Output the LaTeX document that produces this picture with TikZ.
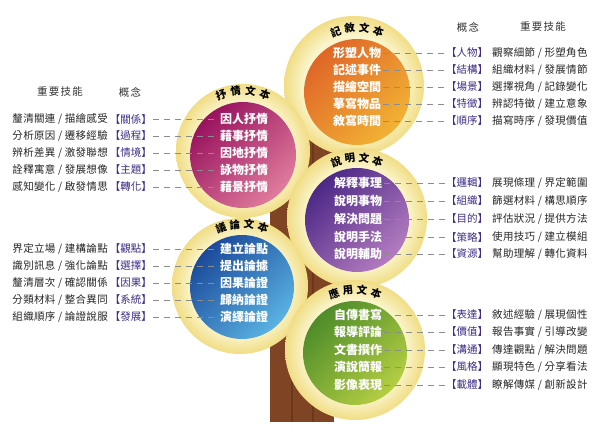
\documentclass[tikz,border=0pt]{standalone}
\usepackage{fontspec}
\usepackage{tikz}
\newfontfamily\cjk{Noto Sans CJK TC}
\newfontfamily\cjkwide[LetterSpace=12]{Noto Sans CJK TC}
\newfontfamily\cjkskill[LetterSpace=3]{Noto Sans CJK TC}
\definecolor{ringcream}{HTML}{FAF5CC}
\definecolor{ringyellow}{HTML}{F1DD84}
\definecolor{trunkbrown}{HTML}{7E4423}
\definecolor{trunkdark}{HTML}{6A381B}
\definecolor{conceptpurple}{HTML}{3F2C86}
\definecolor{dashgray}{HTML}{8C8C8C}
\definecolor{narrtop}{HTML}{DF6628}
\definecolor{narrbot}{HTML}{F2B234}
\definecolor{lyrictop}{HTML}{98125E}
\definecolor{lyricbot}{HTML}{E07C9C}
\definecolor{expotop}{HTML}{4C2886}
\definecolor{expobot}{HTML}{B47CC0}
\definecolor{argutop}{HTML}{1B4A9A}
\definecolor{argubot}{HTML}{5AB2E2}
\definecolor{practop}{HTML}{4E8C2A}
\definecolor{pracbot}{HTML}{B4CE42}
\pgfdeclareradialshading{ringshade}{\pgfpoint{0bp}{0bp}}{color(0bp)=(ringcream); color(18bp)=(ringcream); color(25bp)=(ringyellow); color(50bp)=(ringyellow)}

\begin{document}
\begin{tikzpicture}[x=1pt,y=-1pt,
    item/.style={text=white, font=\cjk\bfseries\fontsize{12}{12}\selectfont, inner sep=2pt},
    concept/.style={text=conceptpurple, font=\cjk\fontsize{10.5}{10.5}\selectfont, inner sep=1pt, anchor=west},
    skill/.style={text=black!85, font=\cjkskill\fontsize{10.5}{10.5}\selectfont, inner sep=0pt, anchor=west},
    head/.style={text=black!80, font=\cjkwide\fontsize{10.5}{10.5}\selectfont, inner sep=0pt},
    arclab/.style={text=black, font=\cjk\bfseries\fontsize{10.5}{10.5}\selectfont, inner sep=0pt},
    dashline/.style={dashgray, line width=0.8pt, dash pattern=on 6pt off 5pt},
    ring/.style={shading=ringshade}]
    \fill [white] (0,0) rectangle (600,433);
    \useasboundingbox (0,0) rectangle (600,433);
    % trunk
    \fill [trunkbrown] (270,120) rectangle (334,422);
    \draw [trunkdark, line width=2] (292,120) -- (292,422);
    \draw [trunkdark, line width=1.2] (313,120) -- (313,422);
    % circles
    \coordinate (narr) at (357,92);
    \coordinate (lyric) at (243,155);
    \coordinate (expo) at (357,220);
    \coordinate (argu) at (242,287);
    \coordinate (prac) at (355,353);
    \shade [ring] (354,86) circle [radius=70];
    \shade [top color=narrtop, bottom color=narrbot, shading angle=45] (narr) circle [radius=53];
    \shade [ring] (243,151) circle [radius=67];
    \shade [top color=lyrictop, bottom color=lyricbot, shading angle=45] (lyric) circle [radius=53];
    \shade [ring] (357,218) circle [radius=70];
    \shade [top color=expotop, bottom color=expobot, shading angle=45] (expo) circle [radius=52];
    \shade [ring] (240,286) circle [radius=68];
    \shade [top color=argutop, bottom color=argubot, shading angle=45] (argu) circle [radius=52];
    \shade [ring] (355,350) circle [radius=70];
    \shade [top color=practop, bottom color=pracbot, shading angle=45] (prac) circle [radius=52];
    % labels on the rings
    \path (narr) ++(-109.5:64) node [arclab, rotate=19.5] {記};
    \path (narr) ++(-96.5:64) node [arclab, rotate=6.5] {敘};
    \path (narr) ++(-83.5:64) node [arclab, rotate=-6.5] {文};
    \path (narr) ++(-70.5:64) node [arclab, rotate=-19.5] {本};
    \path (lyric) ++(-110:64) node [arclab, rotate=20] {抒};
    \path (lyric) ++(-96.7:64) node [arclab, rotate=6.7] {情};
    \path (lyric) ++(-83.3:64) node [arclab, rotate=-6.7] {文};
    \path (lyric) ++(-70:64) node [arclab, rotate=-20] {本};
    \path (expo) ++(-109.5:62) node [arclab, rotate=19.5] {說};
    \path (expo) ++(-96.5:62) node [arclab, rotate=6.5] {明};
    \path (expo) ++(-83.5:62) node [arclab, rotate=-6.5] {文};
    \path (expo) ++(-70.5:62) node [arclab, rotate=-19.5] {本};
    \path (argu) ++(-109.5:63) node [arclab, rotate=19.5] {議};
    \path (argu) ++(-96.5:63) node [arclab, rotate=6.5] {論};
    \path (argu) ++(-83.5:63) node [arclab, rotate=-6.5] {文};
    \path (argu) ++(-70.5:63) node [arclab, rotate=-19.5] {本};
    \path (prac) ++(-109.5:63) node [arclab, rotate=19.5] {應};
    \path (prac) ++(-96.5:63) node [arclab, rotate=6.5] {用};
    \path (prac) ++(-83.5:63) node [arclab, rotate=-6.5] {文};
    \path (prac) ++(-70.5:63) node [arclab, rotate=-19.5] {本};
    % headings
    \node [head] (rhconcept) at (468,27) {概念};
    \node [head] (rhskill) at (543,27) {重要技能};
    \node [head] (lhskill) at (60,92) {重要技能};
    \node [head] (lhconcept) at (130,92) {概念};
    % narrative
    \node [item] (narr1) at (357,53) {形塑人物};
    \node [concept] (narr1c) at (445,53) {【人物】};
    \node [skill] (narr1s) at (492,53) {觀察細節 / 形塑角色};
    \draw [dashline] (narr1) -- (narr1c);
    \node [item] (narr2) at (357,70) {記述事件};
    \node [concept] (narr2c) at (445,70) {【結構】};
    \node [skill] (narr2s) at (492,70) {組織材料 / 發展情節};
    \draw [dashline] (narr2) -- (narr2c);
    \node [item] (narr3) at (357,87) {描繪空間};
    \node [concept] (narr3c) at (445,87) {【場景】};
    \node [skill] (narr3s) at (492,87) {選擇視角 / 記錄變化};
    \draw [dashline] (narr3) -- (narr3c);
    \node [item] (narr4) at (357,104) {摹寫物品};
    \node [concept] (narr4c) at (445,104) {【特徵】};
    \node [skill] (narr4s) at (492,104) {辨認特徵 / 建立意象};
    \draw [dashline] (narr4) -- (narr4c);
    \node [item] (narr5) at (357,121) {敘寫時間};
    \node [concept] (narr5c) at (445,121) {【順序】};
    \node [skill] (narr5s) at (492,121) {描寫時序 / 發現價值};
    \draw [dashline] (narr5) -- (narr5c);
    % lyric
    \node [item] (lyric1) at (244,119) {因人抒情};
    \node [concept, anchor=east] (lyric1c) at (153,119) {【關係】};
    \node [skill, anchor=east] (lyric1s) at (108,119) {釐清關連 / 描繪感受};
    \draw [dashline] (lyric1c) -- (lyric1);
    \node [item] (lyric2) at (244,136) {藉事抒情};
    \node [concept, anchor=east] (lyric2c) at (153,136) {【過程】};
    \node [skill, anchor=east] (lyric2s) at (108,136) {分析原因 / 遷移經驗};
    \draw [dashline] (lyric2c) -- (lyric2);
    \node [item] (lyric3) at (244,153) {因地抒情};
    \node [concept, anchor=east] (lyric3c) at (153,153) {【情境】};
    \node [skill, anchor=east] (lyric3s) at (108,153) {辨析差異 / 激發聯想};
    \draw [dashline] (lyric3c) -- (lyric3);
    \node [item] (lyric4) at (244,170) {詠物抒情};
    \node [concept, anchor=east] (lyric4c) at (153,170) {【主題】};
    \node [skill, anchor=east] (lyric4s) at (108,170) {詮釋寓意 / 發展想像};
    \draw [dashline] (lyric4c) -- (lyric4);
    \node [item] (lyric5) at (244,187) {藉景抒情};
    \node [concept, anchor=east] (lyric5c) at (153,187) {【轉化】};
    \node [skill, anchor=east] (lyric5s) at (108,187) {感知變化 / 啟發情思};
    \draw [dashline] (lyric5c) -- (lyric5);
    % exposition
    \node [item] (expo1) at (358,183) {解釋事理};
    \node [concept] (expo1c) at (445,183) {【邏輯】};
    \node [skill] (expo1s) at (492,183) {展現條理 / 界定範圍};
    \draw [dashline] (expo1) -- (expo1c);
    \node [item] (expo2) at (358,201) {說明事物};
    \node [concept] (expo2c) at (445,201) {【組織】};
    \node [skill] (expo2s) at (492,201) {篩選材料 / 構思順序};
    \draw [dashline] (expo2) -- (expo2c);
    \node [item] (expo3) at (358,219) {解決問題};
    \node [concept] (expo3c) at (445,219) {【目的】};
    \node [skill] (expo3s) at (492,219) {評估狀況 / 提供方法};
    \draw [dashline] (expo3) -- (expo3c);
    \node [item] (expo4) at (358,237) {說明手法};
    \node [concept] (expo4c) at (445,237) {【策略】};
    \node [skill] (expo4s) at (492,237) {使用技巧 / 建立模組};
    \draw [dashline] (expo4) -- (expo4c);
    \node [item] (expo5) at (358,254) {說明輔助};
    \node [concept] (expo5c) at (445,254) {【資源】};
    \node [skill] (expo5s) at (492,254) {幫助理解 / 轉化資料};
    \draw [dashline] (expo5) -- (expo5c);
    % argument
    \node [item] (argu1) at (244,249) {建立論點};
    \node [concept, anchor=east] (argu1c) at (153,249) {【觀點】};
    \node [skill, anchor=east] (argu1s) at (108,249) {界定立場 / 建構論點};
    \draw [dashline] (argu1c) -- (argu1);
    \node [item] (argu2) at (244,266) {提出論據};
    \node [concept, anchor=east] (argu2c) at (153,266) {【選擇】};
    \node [skill, anchor=east] (argu2s) at (108,266) {識別訊息 / 強化論點};
    \draw [dashline] (argu2c) -- (argu2);
    \node [item] (argu3) at (244,283) {因果論證};
    \node [concept, anchor=east] (argu3c) at (153,283) {【因果】};
    \node [skill, anchor=east] (argu3s) at (108,283) {釐清層次 / 確認關係};
    \draw [dashline] (argu3c) -- (argu3);
    \node [item] (argu4) at (244,300) {歸納論證};
    \node [concept, anchor=east] (argu4c) at (153,300) {【系統】};
    \node [skill, anchor=east] (argu4s) at (108,300) {分類材料 / 整合異同};
    \draw [dashline] (argu4c) -- (argu4);
    \node [item] (argu5) at (244,317) {演繹論證};
    \node [concept, anchor=east] (argu5c) at (153,317) {【發展】};
    \node [skill, anchor=east] (argu5s) at (108,317) {組織順序 / 論證說服};
    \draw [dashline] (argu5c) -- (argu5);
    % practical
    \node [item] (prac1) at (358,315) {自傳書寫};
    \node [concept] (prac1c) at (445,315) {【表達】};
    \node [skill] (prac1s) at (492,315) {敘述經驗 / 展現個性};
    \draw [dashline] (prac1) -- (prac1c);
    \node [item] (prac2) at (358,332) {報導評論};
    \node [concept] (prac2c) at (445,332) {【價值】};
    \node [skill] (prac2s) at (492,332) {報告事實 / 引導改變};
    \draw [dashline] (prac2) -- (prac2c);
    \node [item] (prac3) at (358,350) {文書撰作};
    \node [concept] (prac3c) at (445,350) {【溝通】};
    \node [skill] (prac3s) at (492,350) {傳達觀點 / 解決問題};
    \draw [dashline] (prac3) -- (prac3c);
    \node [item] (prac4) at (358,367) {演說簡報};
    \node [concept] (prac4c) at (445,367) {【風格】};
    \node [skill] (prac4s) at (492,367) {顯現特色 / 分享看法};
    \draw [dashline] (prac4) -- (prac4c);
    \node [item] (prac5) at (358,385) {影像表現};
    \node [concept] (prac5c) at (445,385) {【載體】};
    \node [skill] (prac5s) at (492,385) {瞭解傳媒 / 創新設計};
    \draw [dashline] (prac5) -- (prac5c);
\end{tikzpicture}
\end{document}
